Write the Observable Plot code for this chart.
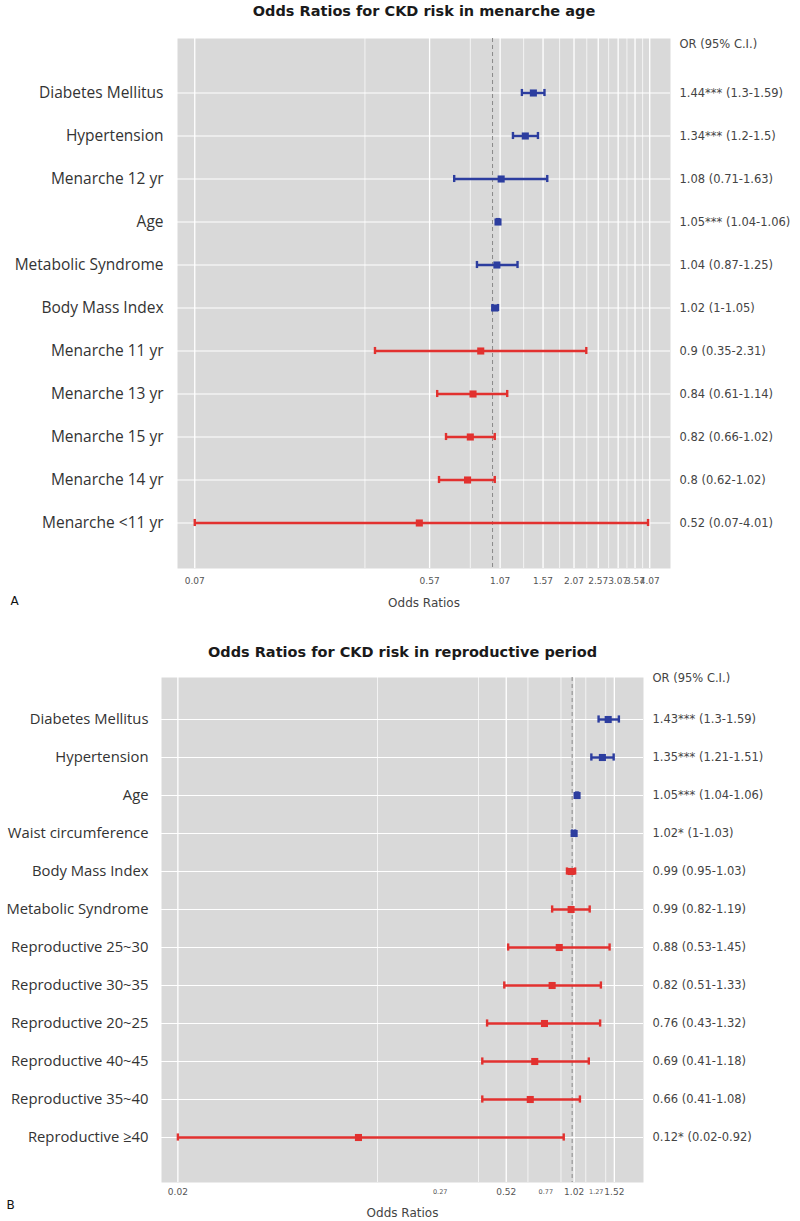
<!DOCTYPE html>
<html><head><meta charset="utf-8">
<script src="https://cdn.jsdelivr.net/npm/d3@7"></script>
<script src="https://cdn.jsdelivr.net/npm/@observablehq/plot@0.6"></script>
<style>body{margin:0;background:#fff} #c svg{display:block}</style>
</head><body><div id="c"></div>
<script>
// ---- Panel A: menarche age ----
const titleA = "Odds Ratios for CKD risk in menarche age";
const labelsA = ["Diabetes Mellitus","Hypertension","Menarche 12 yr","Age","Metabolic Syndrome","Body Mass Index","Menarche 11 yr","Menarche 13 yr","Menarche 15 yr","Menarche 14 yr","Menarche <11 yr"];
const orA  = [1.44, 1.34, 1.08, 1.05, 1.04, 1.02, 0.9, 0.84, 0.82, 0.8, 0.52];
const loA  = [1.3, 1.2, 0.71, 1.04, 0.87, 1, 0.35, 0.61, 0.66, 0.62, 0.07];
const hiA  = [1.59, 1.5, 1.63, 1.06, 1.25, 1.05, 2.31, 1.14, 1.02, 1.02, 4.01];
const sigA = ["***","***","","***","","","","","","",""];
const ticksA = [0.07, 0.57, 1.07, 1.57, 2.07, 2.57, 3.07, 3.57, 4.07];
const minorA = [0.32, 0.82, 1.32, 1.82, 2.32, 2.82, 3.32, 3.82];

// ---- Panel B: reproductive period ----
const titleB = "Odds Ratios for CKD risk in reproductive period";
const labelsB = ["Diabetes Mellitus","Hypertension","Age","Waist circumference","Body Mass Index","Metabolic Syndrome","Reproductive 25~30","Reproductive 30~35","Reproductive 20~25","Reproductive 40~45","Reproductive 35~40","Reproductive \u226540"];
const orB  = [1.43, 1.35, 1.05, 1.02, 0.99, 0.99, 0.88, 0.82, 0.76, 0.69, 0.66, 0.12];
const loB  = [1.3, 1.21, 1.04, 1, 0.95, 0.82, 0.53, 0.51, 0.43, 0.41, 0.41, 0.02];
const hiB  = [1.59, 1.51, 1.06, 1.03, 1.03, 1.19, 1.45, 1.33, 1.32, 1.18, 1.08, 0.92];
const sigB = ["***","***","***","*","","","","","","","","*"];
const ticksB = [0.02, 0.52, 1.02, 1.52];
const ticksBsmall = [0.27, 0.77, 1.27];
const minorB = [0.145, 0.395, 0.645, 0.895, 1.145, 1.395];

const blue = "#2c3d9f", red = "#e2312f";

function panel(o) {
  const rows = o.labels.map((label, i) => ({label, or: o.or[i], lo: o.lo[i], hi: o.hi[i], sig: o.sig[i]}));
  rows.forEach(d => { d.color = d.or >= 1 ? blue : red; d.text = `${d.or}${d.sig} (${d.lo}-${d.hi})`; });
  const step = (o.yCenters[1] - o.yCenters[0]) / (o.labels.length - 1);
  const inset = step / 2 - 4;
  const cap = {y: "label", stroke: "color", strokeWidth: 2.4, insetTop: inset, insetBottom: inset};
  const sm = {fontFamily: "DejaVu Sans, sans-serif", lineAnchor: "middle"};
  const marks = [
    Plot.frame({fill: "#d9d9d9", stroke: null}),
    Plot.ruleX(o.minor, {stroke: "white", strokeWidth: 0.7}),
    Plot.ruleX(o.major, {stroke: "white", strokeWidth: 1.3}),
    Plot.ruleY(o.labels, {stroke: "white", strokeWidth: 1.1}),
    Plot.ruleX([1], {stroke: "#8a8a8a", strokeDasharray: "4,3", strokeWidth: 1}),
    Plot.ruleY(rows, {y: "label", x1: "lo", x2: "hi", stroke: "color", strokeWidth: 2.4}),
    Plot.tickX(rows, {x: "lo", ...cap}),
    Plot.tickX(rows, {x: "hi", ...cap}),
    Plot.dot(rows, {x: "or", y: "label", fill: "color", symbol: "square", r: 4}),
    Plot.axisY({tickSize: 0, tickPadding: o.yPad, fontSize: o.yFont, fontFamily: "Open Sans", fill: "#333", label: null}),
    Plot.text(o.major, {x: d => d, text: d => String(d), frameAnchor: "bottom", dy: o.xdy, fontSize: 9, fill: "#555", ...sm}),
    Plot.text(rows, {y: "label", text: "text", frameAnchor: "right", dx: 9, textAnchor: "start", fontSize: 11.5, fill: "#444", ...sm}),
    Plot.text(["OR (95% C.I.)"], {frameAnchor: "top-right", dx: 9, dy: o.hdy, textAnchor: "start", fontSize: 11.5, fill: "#444", ...sm}),
    Plot.text([o.title], {frameAnchor: "top", dy: o.tdy, fontSize: 14.5, fontWeight: "bold", fill: "#1a1a1a", ...sm}),
    Plot.text(["Odds Ratios"], {frameAnchor: "bottom", dy: o.ady, fontSize: 12, fill: "#444", ...sm}),
    Plot.text([o.letter], {frameAnchor: "bottom-left", dx: o.ldx, dy: o.ldy, textAnchor: "start", fontSize: 12, fill: "#111", ...sm})
  ];
  if (o.smallTicks) marks.push(Plot.text(o.smallTicks, {x: d => d, text: d => String(d), frameAnchor: "bottom", dy: o.xdy - 1, fontSize: 6.5, fill: "#555", ...sm}));
  return Plot.plot({
    width: 800, height: o.height,
    marginTop: o.mt, marginBottom: o.mb, marginLeft: o.ml, marginRight: o.mr,
    x: {type: "log", domain: o.domain, axis: null},
    y: {type: "band", domain: o.labels, range: [o.yCenters[0] - step / 2, o.yCenters[1] + step / 2], padding: 0},
    style: {fontFamily: "DejaVu Sans, sans-serif", background: "white"},
    marks
  });
}

const c = document.getElementById("c");
c.append(panel({
  title: titleA, letter: "A", labels: labelsA, or: orA, lo: loA, hi: hiA, sig: sigA,
  major: ticksA, minor: minorA, domain: [0.06, 4.9],
  height: 620, mt: 38, mb: 52, ml: 177, mr: 130, yCenters: [88, 527],
  yPad: 14, yFont: 15.5, xdy: 13, hdy: 6, tdy: -27, ady: 35, ldx: -167, ldy: 33
}));
c.append(panel({
  title: titleB, letter: "B", labels: labelsB, or: orB, lo: loB, hi: hiB, sig: sigB,
  major: ticksB, smallTicks: ticksBsmall, minor: minorB, domain: [0.017, 2.03],
  height: 601, mt: 57, mb: 39, ml: 161, mr: 157, yCenters: [95, 522],
  yPad: 13, yFont: 14.8, xdy: 10, hdy: 1, tdy: -25, ady: 31, ldx: -155, ldy: 23
}));
</script>
</body></html>
